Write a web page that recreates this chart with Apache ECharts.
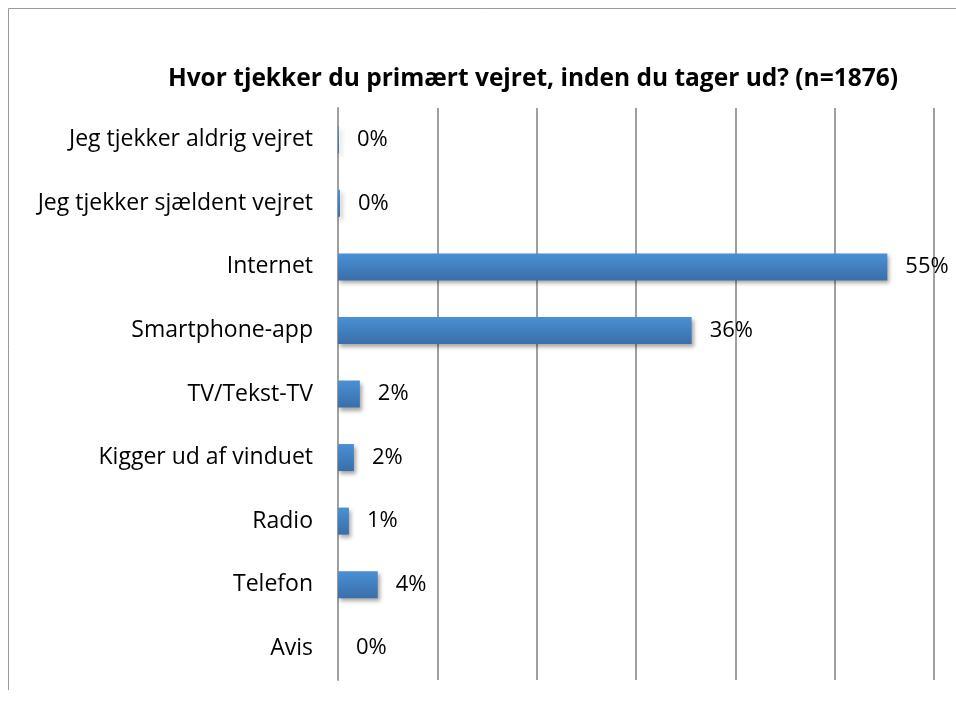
<!DOCTYPE html>
<html lang="da">
<head>
    <meta charset="UTF-8">
    <title>Vejret</title>
    <script src="https://cdn.jsdelivr.net/npm/echarts@6/dist/echarts.min.js"></script>
    <style>
        html, body { margin: 0; padding: 0; background: #fff; }
        #chart { width: 956px; height: 707px; }
    </style>
</head>
<body>
<div id="chart"></div>
<script>
    var categories = ['Jeg tjekker aldrig vejret', 'Jeg tjekker sjældent vejret', 'Internet', 'Smartphone-app',
        'TV/Tekst-TV', 'Kigger ud af vinduet', 'Radio', 'Telefon', 'Avis'];
    var shares = [0.1, 0.2, 55.3, 35.6, 2.2, 1.6, 1.1, 4.0, 0];
    var tickValues = [0, 10, 20, 30, 40, 50, 60];

    var font = "'Open Sans', 'Noto Sans', sans-serif";
    var chart = echarts.init(document.getElementById('chart'));
    chart.setOption({
        animation: false,
        title: {
            text: 'Hvor tjekker du primært vejret, inden du tager ud? (n=1876)',
            left: 528,
            textAlign: 'center',
            top: 62,
            textStyle: { fontFamily: font, fontSize: 24.5, fontWeight: 'bold', color: '#000' }
        },
        grid: { left: 338, right: 22, top: 108, bottom: 27 },
        xAxis: {
            type: 'value',
            min: tickValues[0],
            max: tickValues[tickValues.length - 1],
            interval: 10,
            axisLabel: { show: false },
            axisLine: { show: false },
            axisTick: { show: false },
            splitLine: { lineStyle: { color: '#a0a0a0', width: 2 } }
        },
        yAxis: {
            type: 'category',
            inverse: true,
            data: categories,
            axisLine: { lineStyle: { color: '#a0a0a0', width: 2 } },
            axisTick: { length: 7, lineStyle: { color: '#a0a0a0', width: 2 } },
            axisLabel: { margin: 25, padding: [11, 0, 0, 0], fontFamily: font, fontSize: 23, color: '#000' }
        },
        series: [{
            type: 'bar',
            data: shares,
            barWidth: 27,
            itemStyle: {
                color: new echarts.graphic.LinearGradient(0, 0, 0, 1, [
                    { offset: 0, color: '#4a90d6' },
                    { offset: 1, color: '#3a6ea8' }
                ]),
                shadowColor: 'rgba(0,0,0,0.35)',
                shadowBlur: 4,
                shadowOffsetX: 2,
                shadowOffsetY: 3
            },
            label: {
                show: true,
                position: 'right',
                distance: 18,
                padding: [11, 0, 0, 0],
                fontFamily: font,
                fontSize: 22,
                color: '#000',
                formatter: function (p) { return Math.round(p.value) + '%'; }
            }
        }],
        graphic: [{
            type: 'polyline',
            shape: { points: [[8.5, 690], [8.5, 8.5], [960, 8.5]] },
            style: { stroke: '#9a9a9a', lineWidth: 1, fill: null },
            silent: true
        }]
    });
</script>
</body>
</html>
